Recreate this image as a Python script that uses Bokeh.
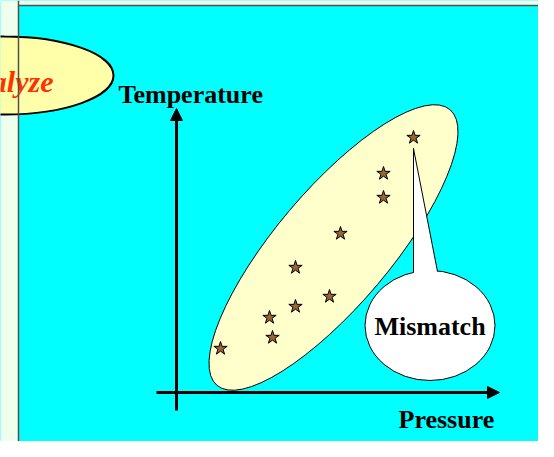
from bokeh.plotting import figure
from bokeh.models import Range1d, Arrow, NormalHead, Span, ColumnDataSource
from bokeh.embed import file_html
from bokeh.resources import INLINE
from bokeh.core.properties import value
import math

# ---- data (schematic units) ----
pressure = [44, 96, 93, 119, 153, 119, 164, 207, 207, 237]
temperature = [44, 55, 75, 86, 96, 125, 159, 195, 219, 255]
x_label = "Pressure"
y_label = "Temperature"
callout_text = "Mismatch"
title_text = "Analyze"

SERIF = value("Liberation Serif")
X0, X1, Y0, Y1 = -176, 362, -49, 392

p = figure(width=538, height=441, output_backend="svg", toolbar_location=None,
           x_range=Range1d(X0, X1), y_range=Range1d(Y0, Y1),
           x_axis_location=None, y_axis_location=None, min_border=0,
           background_fill_color="#00FFFF", border_fill_color="#00FFFF",
           outline_line_color=None)
p.grid.visible = False

# page strips and slide border
p.quad(left=[X0, X0], right=[-158, X1], bottom=[Y0, 387], top=[Y1, Y1],
       fill_color="#EEFFEE", line_color=None)
p.add_layout(Span(location=-158, dimension="height", line_color="#505050", line_width=1.5))
p.line(x=[-158, X1], y=[387, 387], line_color="#505050", line_width=1.5)

# cluster ellipse
p.ellipse(x=[157], y=[145], width=361, height=115, angle=math.radians(49.8),
          fill_color="#FFFFCC", line_color="black", line_width=1)

# data stars
src = ColumnDataSource(dict(x=pressure, y=temperature))
p.scatter("x", "y", source=src, marker="star", size=14,
          fill_color="#996633", line_color="black", line_width=1)

# axes as arrows
p.add_layout(Arrow(end=NormalHead(size=12, fill_color="black", line_color="black"),
                   x_start=-20, y_start=0, x_end=323, y_end=0,
                   line_width=3, line_color="black"))
p.add_layout(Arrow(end=NormalHead(size=12, fill_color="black", line_color="black"),
                   x_start=0, y_start=-18, x_end=0, y_end=284,
                   line_width=3, line_color="black"))

# axis titles
p.text(x=[-58], y=[298], text=[y_label], text_font=SERIF, text_font_style="bold",
       text_font_size="26px", text_color="black", text_baseline="alphabetic")
p.text(x=[222], y=[-27], text=[x_label], text_font=SERIF, text_font_style="bold",
       text_font_size="26px", text_color="black", text_baseline="alphabetic")

# callout bubble
bx, by = 253.5, 67
p.ellipse(x=[bx], y=[by], width=130, height=110,
          fill_color="white", line_color="black", line_width=1)
tip_x, tip_y = pressure[-1], temperature[-1] - 11
p.patch(x=[tip_x, tip_x, 262.7], y=[tip_y, 112, 112], fill_color="white", line_color=None)
p.line(x=[tip_x, tip_x], y=[tip_y, 120], line_color="black", line_width=1)
p.line(x=[tip_x, 261], y=[tip_y, 121], line_color="black", line_width=1)
p.text(x=[bx], y=[66], text=[callout_text], text_font=SERIF, text_font_style="bold",
       text_font_size="26px", text_color="black", text_align="center",
       text_baseline="alphabetic")

# "Analyze" title oval
p.ellipse(x=[-172], y=[317], width=218, height=78,
          fill_color="#FFFFAA", line_color="black", line_width=2)
p.text(x=[-123], y=[311], text=[title_text], text_font=SERIF,
       text_font_style="bold italic", text_font_size="30px", text_color="#FF3300",
       text_align="right", text_baseline="alphabetic")

open("out.html", "w").write(file_html(p, INLINE))
